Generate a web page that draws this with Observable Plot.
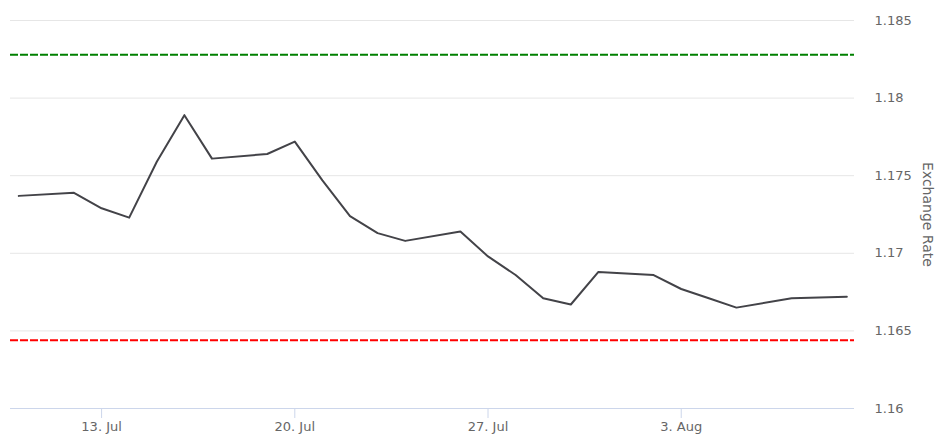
<!DOCTYPE html>
<html>
<head>
<meta charset="utf-8">
<script src="https://cdn.jsdelivr.net/npm/d3@7"></script>
<script src="https://cdn.jsdelivr.net/npm/@observablehq/plot@0.6"></script>
<style>
  html, body { margin: 0; padding: 0; background: #fff; }
</style>
</head>
<body>
<div id="chart"></div>
<script>
const dates = ["2020-07-10","2020-07-12","2020-07-13","2020-07-14","2020-07-15","2020-07-16","2020-07-17",
  "2020-07-19","2020-07-20","2020-07-21","2020-07-22","2020-07-23","2020-07-24",
  "2020-07-26","2020-07-27","2020-07-28","2020-07-29","2020-07-30","2020-07-31",
  "2020-08-02","2020-08-03","2020-08-04","2020-08-05","2020-08-07","2020-08-09"];
const rates = [1.1737,1.1739,1.1729,1.1723,1.1759,1.1789,1.1761,
  1.1764,1.1772,1.1747,1.1724,1.1713,1.1708,
  1.1714,1.1698,1.1686,1.1671,1.1667,1.1688,
  1.1686,1.1677,1.1671,1.1665,1.1671,1.1672];
const upperLevel = 1.1828;
const lowerLevel = 1.1644;
const yTicks = [1.16, 1.165, 1.17, 1.175, 1.18, 1.185];
const xTickLabels = ["2020-07-13","2020-07-20","2020-07-27","2020-08-03"];
const axisTitle = "Exchange Rate";

const data = dates.map((d, i) => ({date: new Date(d + "T00:00Z"), rate: rates[i]}));
const xTicks = xTickLabels.map(d => new Date(d + "T00:00Z"));

const chart = Plot.plot({
  width: 941,
  height: 442,
  marginLeft: 10,
  marginRight: 87,
  marginTop: 20,
  marginBottom: 34,
  style: {fontFamily: "DejaVu Sans", fontSize: "13px", background: "#fff"},
  x: {type: "utc", domain: [new Date("2020-07-09T16:48Z"), new Date("2020-08-09T06:40Z")]},
  y: {domain: [1.16, 1.185]},
  marks: [
    Plot.ruleY(yTicks.filter(v => v > 1.16), {stroke: "#e6e6e6", strokeWidth: 1}),
    Plot.ruleY([1.16], {stroke: "#ccd6eb", strokeWidth: 1}),
    Plot.ruleY([upperLevel], {stroke: "green", strokeWidth: 2, strokeDasharray: "8,2"}),
    Plot.ruleY([lowerLevel], {stroke: "red", strokeWidth: 2, strokeDasharray: "8,2"}),
    Plot.lineY(data, {x: "date", y: "rate", stroke: "#434348", strokeWidth: 2, strokeLinejoin: "round"}),
    Plot.axisX({ticks: xTicks, tickSize: 10, tickPadding: 3, stroke: "#ccd6eb", strokeOpacity: 1,
      fill: "#666", fontSize: 13, label: null, tickFormat: d3.utcFormat("%-d. %b")}),
    Plot.axisY({ticks: yTicks, anchor: "right", tickSize: 0, tickPadding: 20, textAnchor: "start",
      fill: "#666", fontSize: 13, label: null, tickFormat: d => String(d)}),
    Plot.text([axisTitle], {frameAnchor: "right", dx: 73, rotate: 90, fill: "#666", fontSize: 14, textAnchor: "middle"})
  ]
});
document.getElementById("chart").appendChild(chart);
</script>
</body>
</html>
